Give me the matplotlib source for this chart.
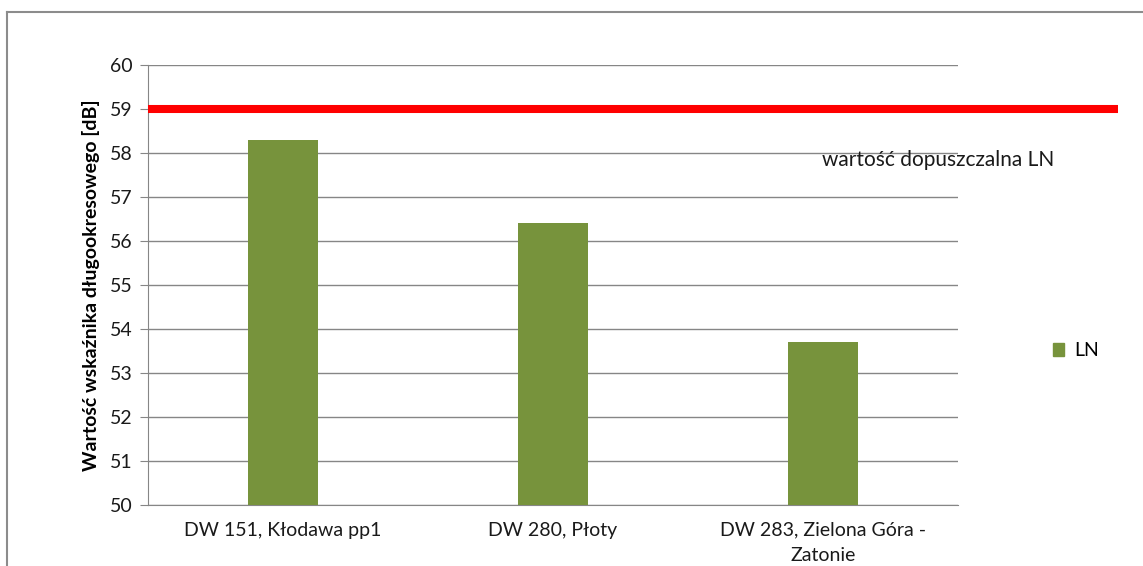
import matplotlib.pyplot as plt
from matplotlib.lines import Line2D
from matplotlib.patches import Patch

plt.rcParams['font.family'] = ['Lato', 'DejaVu Sans']

# punkty pomiarowe i poziom LN [dB]
stations = ['DW 151, Kłodawa pp1', 'DW 280, Płoty', 'DW 283, Zielona Góra -\nZatonie']
ln_values = [58.3, 56.4, 53.7]
limit_ln = 59
y_ticks = list(range(50, 61))

bar_color = '#77933C'
grid_color = '#868686'

fig = plt.figure(figsize=(11.43, 5.66), dpi=100)
ax = fig.add_axes([148 / 1143, 1 - 505 / 566, 810 / 1143, 440 / 566])

x = range(len(stations))
ax.bar(x, ln_values, width=0.26, color=bar_color, zorder=3)

ax.set_xlim(-0.5, len(stations) - 0.5)
ax.set_ylim(50, 60)
ax.set_yticks(y_ticks)
ax.set_xticks(list(x))
ax.set_xticklabels(stations, fontsize=14, color='#1a1a1a', linespacing=1.6)
ax.tick_params(axis='y', labelsize=14, length=6, color=grid_color, labelcolor='#1a1a1a', pad=5)
ax.tick_params(axis='x', length=0, pad=12)

ax.yaxis.grid(True, color=grid_color, linewidth=1)
ax.set_axisbelow(True)
for side in ['top', 'right']:
    ax.spines[side].set_visible(False)
ax.spines['left'].set_color(grid_color)
ax.spines['bottom'].set_color(grid_color)

ax.set_ylabel('Wartość wskaźnika długookresowego [dB]', fontsize=14,
              fontweight='bold', labelpad=7)

# linia wartości dopuszczalnej, wychodzi poza obszar wykresu
ax.axhline(limit_ln, xmin=0, xmax=(1118 - 148) / 810, color='#FF0000',
           linewidth=5.8, clip_on=False, zorder=4, solid_capstyle='butt')
ax.text((822 - 148) / 810, 57.84, 'wartość dopuszczalna LN', fontsize=15,
        transform=ax.get_yaxis_transform(), va='center', ha='left', color='#1a1a1a',
        clip_on=False)

fig.legend(handles=[Patch(color=bar_color, label='LN')], loc='center left',
           bbox_to_anchor=(1035 / 1143, 1 - 351 / 566), frameon=False,
           fontsize=14, handlelength=0.6, handleheight=0.6, handletextpad=0.5)

# ramka wykresu
fig.add_artist(Line2D([7 / 1143, 7 / 1143], [0, 1 - 12 / 566], color='#8c8c8c',
                      linewidth=1.5, transform=fig.transFigure))
fig.add_artist(Line2D([7 / 1143, 1], [1 - 12 / 566, 1 - 12 / 566], color='#8c8c8c',
                      linewidth=1.5, transform=fig.transFigure))

fig.savefig('out.png', dpi=100)
